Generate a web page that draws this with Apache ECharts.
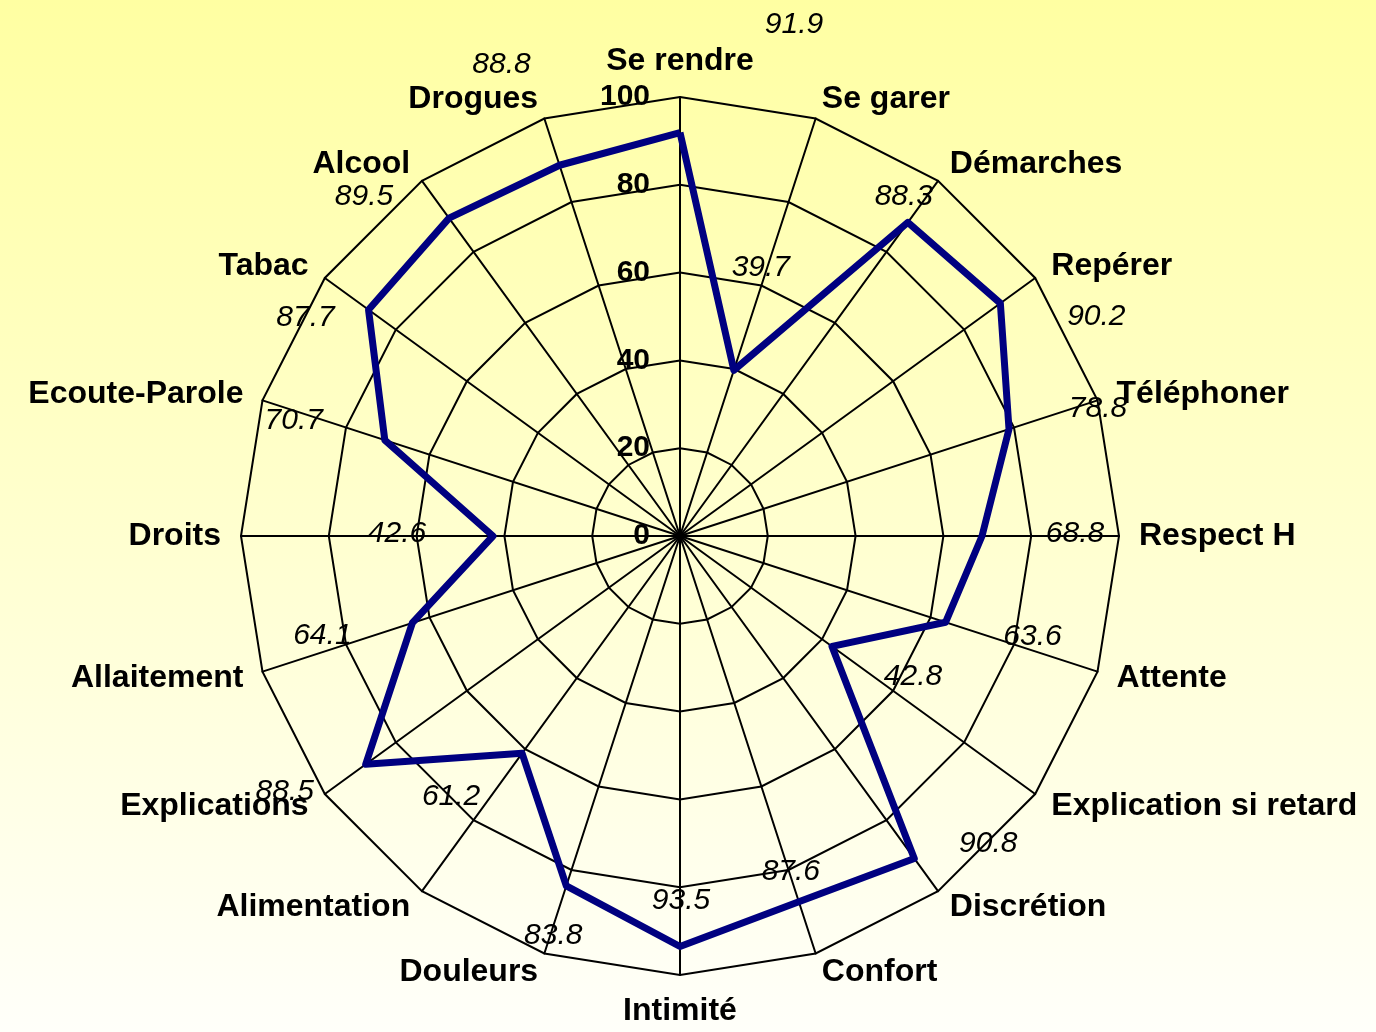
<!DOCTYPE html>
<html>
<head>
<meta charset="utf-8">
<title>Radar</title>
<script src="https://cdn.jsdelivr.net/npm/echarts@6/dist/echarts.min.js"></script>
<style>
html, body { margin: 0; padding: 0; }
#chart { width: 1376px; height: 1032px; }
</style>
</head>
<body>
<div id="chart"></div>
<script>
const categories = ['Se rendre', 'Se garer', 'Démarches', 'Repérer', 'Téléphoner', 'Respect H', 'Attente',
  'Explication si retard', 'Discrétion', 'Confort', 'Intimité', 'Douleurs', 'Alimentation', 'Explications',
  'Allaitement', 'Droits', 'Ecoute-Parole', 'Tabac', 'Alcool', 'Drogues']
const values = [91.9, 39.7, 88.3, 90.2, 78.8, 68.8, 63.6, 42.8, 90.8, 87.6, 93.5, 83.8, 61.2, 88.5, 64.1, 42.6, 70.7, 87.7, 89.5, 88.8]
const maxValue = 100

// décalage des étiquettes (px) par rapport à leur point, comme dans l'original
const labelOffsets = [[114, -108], [27, -103], [-4, -26], [96, 13], [89, -20], [93, -2], [87, 14], [81, 30],
  [74, -15], [-8, -30], [1, -46], [-13, 50], [-71, 43], [-81, 27], [-90, 13], [-96, -2], [-91, -19],
  [-63, 8], [-85, -21], [-58, -101]]

const CENTER = [680, 536]
const RADIUS = 439
const FONT = 'Liberation Sans, Arial, sans-serif'

// le radar echarts tourne dans le sens anti-horaire -> on inverse l'ordre (le premier reste en haut)
const order = [0].concat(categories.map((c, i) => i).slice(1).reverse())

const indicator = order.map((i, k) => {
  const ind = { name: categories[i], min: 0, max: maxValue }
  if (k === 0) ind.axisLabel = { show: true }
  return ind
})

const chart = echarts.init(document.getElementById('chart'))
chart.setOption({
  animation: false,
  backgroundColor: {
    type: 'linear', x: 0, y: 0, x2: 0, y2: 1,
    colorStops: [{ offset: 0, color: '#FFFFA2' }, { offset: 1, color: '#FFFFFA' }]
  },
  radar: {
    center: CENTER,
    radius: RADIUS,
    shape: 'polygon',
    splitNumber: 5,
    startAngle: 90,
    indicator: indicator,
    nameGap: 20,
    axisName: { color: '#000', fontSize: 32, fontWeight: 'bold', fontFamily: FONT },
    axisLine: { lineStyle: { color: '#000', width: 2 } },
    splitLine: { lineStyle: { color: '#000', width: 2 } },
    splitArea: { show: false },
    axisTick: { show: false },
    axisLabel: { show: false, color: '#000', fontSize: 30, fontWeight: 'bold', fontFamily: FONT, margin: 30 }
  },
  // repère polaire invisible, juste pour placer les étiquettes de valeurs
  polar: { center: CENTER, radius: RADIUS },
  angleAxis: { type: 'category', data: categories, boundaryGap: false, startAngle: 90, clockwise: true, show: false },
  radiusAxis: { type: 'value', min: 0, max: maxValue, show: false },
  series: [
    {
      type: 'radar',
      symbol: 'none',
      lineStyle: { color: '#000080', width: 7 },
      z: 3,
      data: [{ value: order.map(i => values[i]) }]
    },
    {
      type: 'scatter',
      coordinateSystem: 'polar',
      symbolSize: 1,
      silent: true,
      z: 4,
      itemStyle: { color: 'rgba(0,0,0,0)', opacity: 1 },
      label: {
        show: true,
        position: 'inside',
        color: '#000',
        opacity: 1,
        fontSize: 30,
        fontStyle: 'italic',
        fontFamily: FONT,
        formatter: p => p.value[0].toFixed(1)
      },
      data: values.map((v, i) => ({ value: [v, categories[i]], label: { offset: labelOffsets[i] } }))
    }
  ]
})
</script>
</body>
</html>
